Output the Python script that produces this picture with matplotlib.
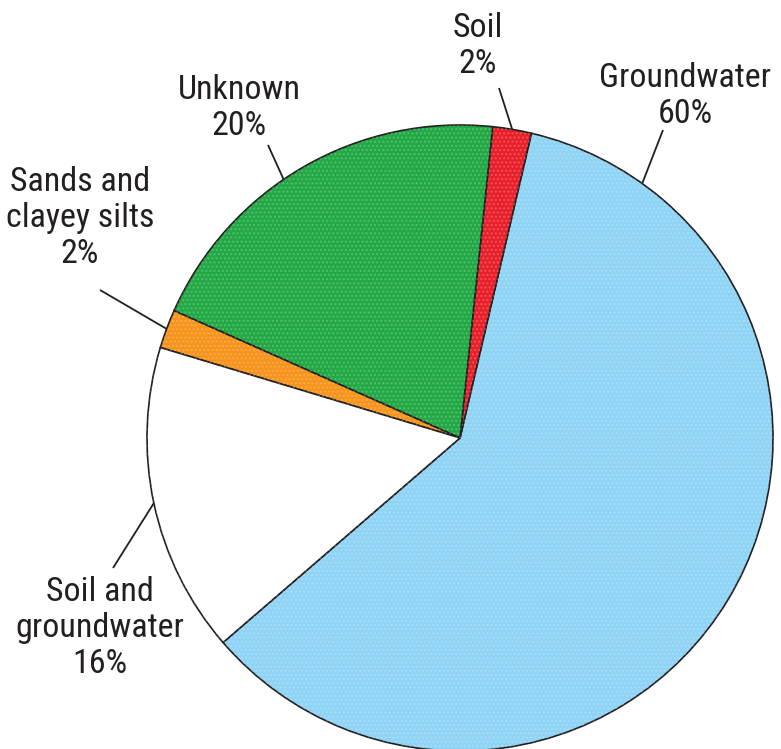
import numpy as np
import matplotlib
matplotlib.use("Agg")
import matplotlib.pyplot as plt
from matplotlib import font_manager

categories = ["Groundwater", "Soil", "Unknown", "Sands and\nclayey silts", "Soil and\ngroundwater"]
values = [60, 2, 20, 2, 16]
colors = ["#8fd3f5", "#e8202a", "#22a845", "#f7941d", "#ffffff"]

W, H = 781, 749
fig = plt.figure(figsize=(W / 100, H / 100), dpi=100)
ax = fig.add_axes([0, 0, 1, 1])

avail = {f.name for f in font_manager.fontManager.ttflist}
fam = [f for f in ["Liberation Sans Narrow", "Roboto Condensed", "Roboto", "Liberation Sans", "DejaVu Sans"] if f in avail]

plt.rcParams["hatch.linewidth"] = 1.0
cx, cy, r = 460, H - 438, 313
start = 76.8 - 360 * values[0] / 100
wedges, _ = ax.pie(values, colors=colors, startangle=start, counterclock=True,
                   center=(cx, cy), radius=r,
                   wedgeprops=dict(edgecolor="#231f20", linewidth=1.2))
# faint stipple texture like the print original
tex, _ = ax.pie(values, colors=["none"] * len(values), startangle=start, counterclock=True,
                center=(cx, cy), radius=r,
                wedgeprops=dict(edgecolor=(1, 1, 1, 0.2), linewidth=0, hatch="...."))
ax.set_xlim(0, W)
ax.set_ylim(0, H)
ax.set_aspect("equal")
ax.axis("off")

# label text positions (pixel, from top) and leader angles on rim
label_pos = [(685, 96), (478, 46), (239, 108), (80, 218), (100, 628)]
line_start = [(663, 130), (499, 88), (268, 145), (100, 290), (113, 568)]
rim_angle = [54.4, None, 124.3, None, None]

for i, (cat, v) in enumerate(zip(categories, values)):
    w = wedges[i]
    ang = rim_angle[i] if rim_angle[i] is not None else (w.theta1 + w.theta2) / 2
    ex = cx + r * np.cos(np.radians(ang))
    ey = cy + r * np.sin(np.radians(ang))
    sx, sy = line_start[i]
    ax.plot([sx, ex], [H - sy, ey], color="#231f20", lw=1.3, solid_capstyle="butt")
    tx, ty = label_pos[i]
    ax.text(tx, H - ty, f"{cat}\n{v}%", ha="center", va="center", fontsize=24.5,
            family=fam, weight="normal", color="#231f20", linespacing=1.17)

fig.savefig("out.png", dpi=100)
